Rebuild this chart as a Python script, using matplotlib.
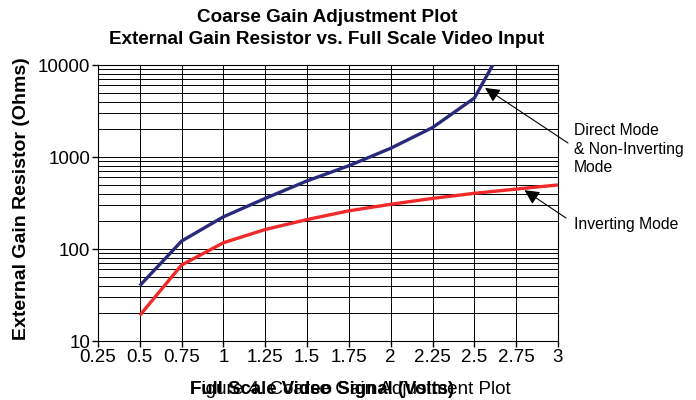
import numpy as np
from matplotlib import pyplot as plt
from matplotlib.ticker import LogLocator, NullFormatter, FixedLocator

plt.rcParams['font.family'] = ['Liberation Sans', 'DejaVu Sans']

# full scale video signal (volts)
volts_direct = [0.5, 0.75, 1.0, 1.25, 1.5, 1.75, 2.0, 2.25, 2.5, 2.61]
ohms_direct = [40, 122, 224, 355, 550, 804, 1245, 2090, 4370, 10000]

volts_inv = [0.5, 0.75, 1.0, 1.25, 1.5, 1.75, 2.0, 2.25, 2.5, 2.75, 3.0]
ohms_inv = [19, 67, 117, 163, 209, 260, 306, 355, 403, 448, 497]

xticks = [0.25, 0.5, 0.75, 1, 1.25, 1.5, 1.75, 2, 2.25, 2.5, 2.75, 3]
xticklabels = ['0.25', '0.5', '0.75', '1', '1.25', '1.5', '1.75', '2', '2.25', '2.5', '2.75', '3']
yticks = [10, 100, 1000, 10000]
yticklabels = ['10', '100', '1000', '10000']


def main():
    fig, ax = fig_setup()
    ax.plot(volts_direct, ohms_direct, color='#2a2a7c', lw=2.4, solid_capstyle='butt', zorder=3)
    ax.plot(volts_inv, ohms_inv, color='#f02a2a', lw=2.4, solid_capstyle='butt', zorder=3)

    arrow = dict(arrowstyle='-|>', color='black', lw=0.8, mutation_scale=22, shrinkA=0, shrinkB=0)
    ax.annotate('', xy=(2.564, 5630), xycoords='data',
                xytext=(568 / 696, 1 - 143 / 400), textcoords='figure fraction',
                arrowprops=arrow)
    ax.annotate('', xy=(2.80, 436), xycoords='data',
                xytext=(566 / 696, 1 - 218 / 400), textcoords='figure fraction',
                arrowprops=arrow)
    fig.text(574 / 696, 1 - 149 / 400, 'Direct Mode\n& Non-Inverting\nMode',
             fontsize=11.3, va='center', ha='left', linespacing=1.3)
    fig.text(574 / 696, 1 - 225 / 400, 'Inverting Mode',
             fontsize=11.3, va='center', ha='left')

    fig.text(327 / 696, 1 - 17 / 400, 'Coarse Gain Adjustment Plot',
             fontsize=13.6, fontweight='bold', ha='center', va='center')
    fig.text(327 / 696, 1 - 39 / 400, 'External Gain Resistor vs. Full Scale Video Input',
             fontsize=13.6, fontweight='bold', ha='center', va='center')
    fig.text(190 / 696, 1 - 389 / 400, 'Full Scale Video Signal (Volts)',
             fontsize=13.4, fontweight='bold', ha='left', va='center')
    fig.text(190 / 696, 1 - 389 / 400, 'Figure 4. Coarse Gain Adjustment Plot',
             fontsize=13.6, ha='left', va='center')
    fig.text(22 / 696, 1 - 199 / 400, 'External Gain Resistor (Ohms)',
             fontsize=14, fontweight='bold', ha='center', va='center', rotation=90)

    plt.savefig('out.png', dpi=100)


def fig_setup():
    fig = plt.figure(figsize=(6.96, 4.0), dpi=100)
    ax = fig.add_axes([98 / 696, 1 - 341 / 400, 460 / 696, 276 / 400])
    ax.set_yscale('log')
    ax.set_xlim(0.25, 3)
    ax.set_ylim(10, 10000)
    ax.xaxis.set_major_locator(FixedLocator(xticks))
    ax.set_xticklabels(xticklabels, fontsize=13.5)
    ax.yaxis.set_major_locator(FixedLocator(yticks))
    ax.set_yticklabels(yticklabels, fontsize=13.5)
    ax.yaxis.set_minor_locator(LogLocator(base=10, subs=np.arange(2, 10)))
    ax.yaxis.set_minor_formatter(NullFormatter())
    ax.tick_params(axis='y', which='minor', length=0)
    ax.tick_params(axis='both', which='major', length=4, width=1, direction='out', pad=1.5)
    ax.grid(True, which='both', axis='y', color='black', lw=0.7)
    ax.grid(True, which='major', axis='x', color='black', lw=0.7)
    for s in ax.spines.values():
        s.set_linewidth(0.8)
    return fig, ax


main()
